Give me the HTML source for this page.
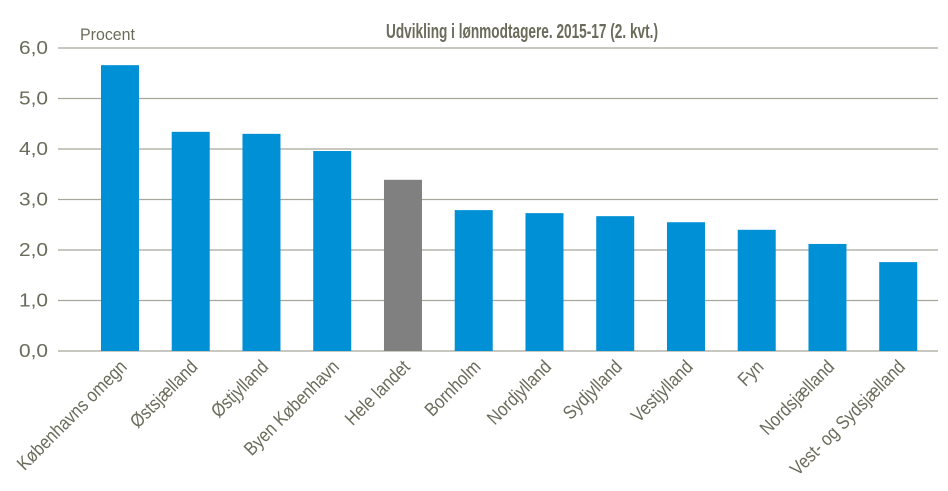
<!DOCTYPE html>
<html><head><meta charset="utf-8"><style>
body{margin:0;background:#fff}
svg{display:block;font-family:"Liberation Sans",Arial,sans-serif}
</style></head><body>
<svg id="chart" width="948" height="491">
<text x="522" y="38" text-anchor="middle" font-weight="bold" font-size="20" fill="#6b6b5b" textLength="272" lengthAdjust="spacingAndGlyphs">Udvikling  i lønmodtagere. 2015-17 (2. kvt.)</text>
<text x="80" y="40" font-size="17" fill="#6b6b5b" textLength="55" lengthAdjust="spacingAndGlyphs">Procent</text>
<g id="grid"></g><g id="bars"></g><g id="labels"></g>
</svg>
<script>
const categories=["Københavns omegn","Østsjælland","Østjylland","Byen København","Hele landet","Bornholm","Nordjylland","Sydjylland","Vestjylland","Fyn","Nordsjælland","Vest- og Sydsjælland"];
const values=[5.66,4.34,4.30,3.96,3.39,2.79,2.73,2.67,2.55,2.40,2.12,1.76];
const highlight=["Hele landet"];
const ticks=[0,1,2,3,4,5,6];
const tickLabels=["0,0","1,0","2,0","3,0","4,0","5,0","6,0"];
const NS="http://www.w3.org/2000/svg";
const y0=351,pxPer=50.5,x0=84.6,step=70.75,bw=38;
const yScale=v=>y0-v*pxPer;
const xCenter=i=>x0+step*(i+0.5);
const grid=document.getElementById('grid'),bars=document.getElementById('bars'),labels=document.getElementById('labels');
ticks.forEach((t,i)=>{
  const l=document.createElementNS(NS,'line');
  l.setAttribute('x1',58);l.setAttribute('x2',938);
  l.setAttribute('y1',yScale(t));l.setAttribute('y2',yScale(t));
  l.setAttribute('stroke','#a6a69a');l.setAttribute('stroke-width','1.3');
  
  
  grid.appendChild(l);
  const tx=document.createElementNS(NS,'text');
  tx.setAttribute('x',48);tx.setAttribute('y',yScale(t)+6);
  tx.setAttribute('text-anchor','end');tx.setAttribute('font-size','18');tx.setAttribute('fill','#6b6b5b');
  tx.setAttribute('textLength','29');tx.setAttribute('lengthAdjust','spacingAndGlyphs');
  tx.textContent=tickLabels[i];
  
  
  grid.appendChild(tx);
});
categories.forEach((c,i)=>{
  const r=document.createElementNS(NS,'rect');
  const cx=xCenter(i);
  r.setAttribute('x',cx-bw/2);r.setAttribute('width',bw);
  r.setAttribute('y',yScale(values[i]));r.setAttribute('height',y0-yScale(values[i]));
  r.setAttribute('fill',highlight.includes(c)?'#808080':'#0090d6');
  
  
  bars.appendChild(r);
  const t=document.createElementNS(NS,'text');
  t.setAttribute('transform','translate('+(cx+8)+',368) rotate(-45) scale(0.86,1)');
  t.setAttribute('text-anchor','end');t.setAttribute('font-size','19');t.setAttribute('fill','#6b6b5b');
  t.textContent=c;
  
  
  labels.appendChild(t);
});
</script>
</body></html>
